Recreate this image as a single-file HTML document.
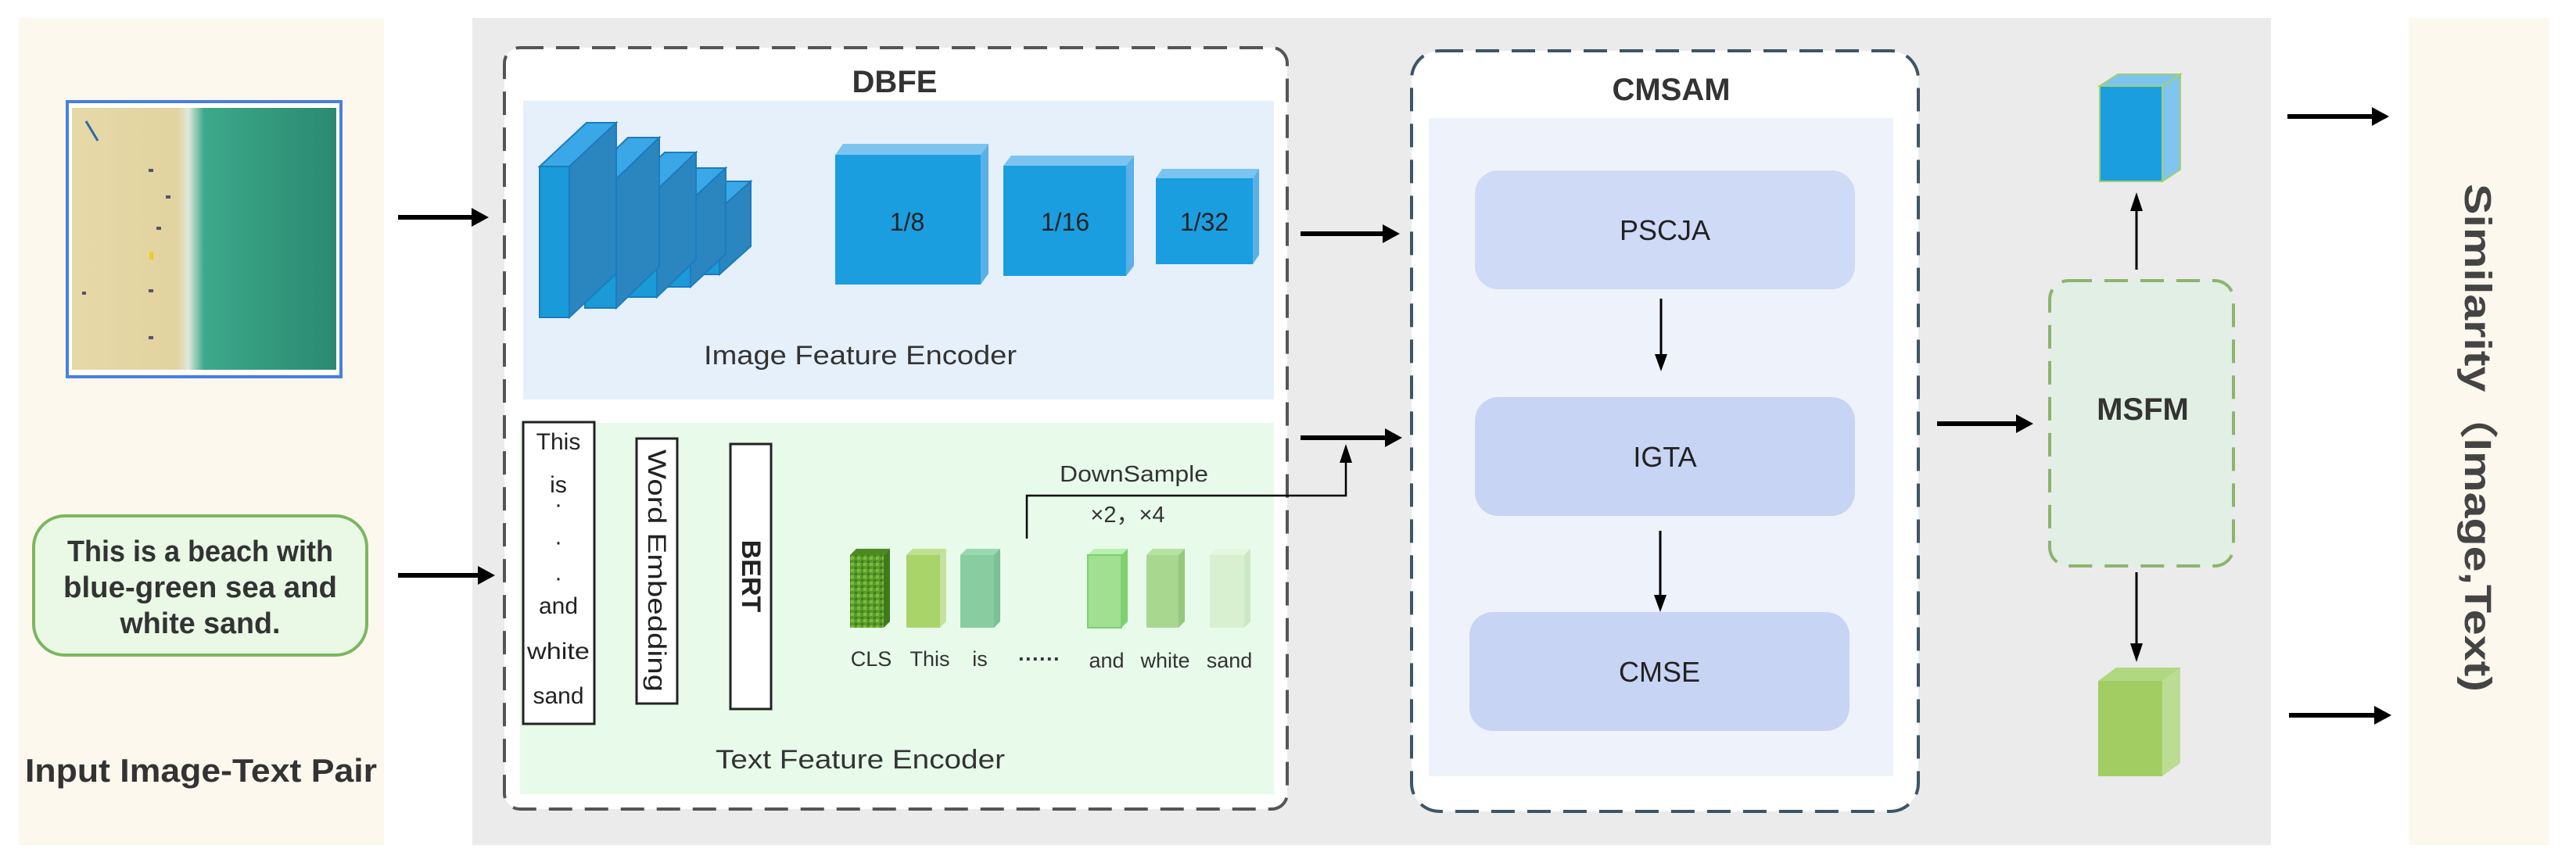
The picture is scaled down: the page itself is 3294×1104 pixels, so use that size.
<!DOCTYPE html>
<html><head><meta charset="utf-8"><style>
html,body{margin:0;padding:0;background:#fff;}
svg{display:block;font-family:"Liberation Sans",sans-serif;}
</style></head><body>
<svg width="3294" height="1104" viewBox="0 0 3294 1104" xmlns="http://www.w3.org/2000/svg">
<defs>
<marker id="ah" markerWidth="10" markerHeight="10" refX="8" refY="5" orient="auto" markerUnits="userSpaceOnUse" viewBox="0 0 10 10">
</marker>
<linearGradient id="sea" x1="0" y1="0" x2="1" y2="0">
<stop offset="0" stop-color="#e6d9a8"/><stop offset="0.4" stop-color="#e2d3a0"/><stop offset="0.44" stop-color="#dfe8dc"/><stop offset="0.5" stop-color="#3da88a"/><stop offset="1" stop-color="#2a8a70"/>
</linearGradient>
<pattern id="grass" width="8" height="8" patternUnits="userSpaceOnUse"><rect width="8" height="8" fill="#5a9a2a"/><rect x="0" y="0" width="4" height="4" fill="#7cbc3c"/><rect x="5" y="5" width="3" height="3" fill="#3e7a1c"/></pattern>
</defs>
<!-- panels -->
<rect x="24" y="23" width="467" height="1058" fill="#fdf8ee"/>
<rect x="604" y="23" width="2300" height="1058" fill="#ebebeb"/>
<rect x="3080" y="23" width="180" height="1058" fill="#fdf8ee"/>
<!-- beach image -->
<rect x="86" y="130" width="350" height="352" fill="#fff" stroke="#4a7fe0" stroke-width="4"/>
<rect x="92" y="138" width="338" height="335" fill="url(#sea)"/>
<g fill="#556">
<rect x="190" y="216" width="6" height="4"/><rect x="212" y="250" width="6" height="4"/><rect x="200" y="290" width="6" height="4"/><rect x="190" y="370" width="6" height="4"/><rect x="105" y="373" width="5" height="4"/><rect x="190" y="430" width="6" height="4"/></g>
<rect x="191" y="322" width="5" height="10" fill="#e8d020"/>
<line x1="110" y1="155" x2="125" y2="180" stroke="#3366aa" stroke-width="3"/>
<!-- input text box -->
<rect x="43" y="660" width="426" height="178" rx="40" fill="#e9f9e6" stroke="#7cb660" stroke-width="4"/>
<g font-weight="bold" font-size="38" fill="#333" text-anchor="middle">
<text x="256" y="718" textLength="340" lengthAdjust="spacingAndGlyphs">This is a beach with</text>
<text x="256" y="764" textLength="350" lengthAdjust="spacingAndGlyphs">blue-green sea and</text>
<text x="256" y="810" textLength="205" lengthAdjust="spacingAndGlyphs">white sand.</text>
<text x="257" y="1000" font-size="42" textLength="450" lengthAdjust="spacingAndGlyphs">Input Image-Text Pair</text>
</g>
<!-- arrows helper: lines with polygon heads -->
<g stroke="#000" stroke-width="6" fill="none">
<line x1="509" y1="278" x2="605" y2="278"/>
<line x1="509" y1="736" x2="612" y2="736"/>
<line x1="1663" y1="299" x2="1770" y2="299"/>
<line x1="1663" y1="560" x2="1773" y2="560"/>
<line x1="2477" y1="542" x2="2580" y2="542"/>
<line x1="2925" y1="149" x2="3035" y2="149"/>
<line x1="2927" y1="915" x2="3038" y2="915"/>
<line x1="983" y1="286" x2="1045" y2="286"/>
<line x1="760" y1="732" x2="798" y2="732"/>
<line x1="873" y1="732" x2="912" y2="732"/>
<line x1="999" y1="732" x2="1062" y2="732"/>
</g>
<g fill="#000">
<polygon points="625,278 603,266 603,290"/>
<polygon points="633,736 611,724 611,748"/>
<polygon points="1790,299 1768,287 1768,311"/>
<polygon points="1793,560 1771,548 1771,572"/>
<polygon points="2600,542 2578,530 2578,554"/>
<polygon points="3055,149 3033,137 3033,161"/>
<polygon points="3058,915 3036,903 3036,927"/>
<polygon points="1063,286 1043,274 1043,298"/>
<polygon points="816,732 796,720 796,744"/>
<polygon points="931,732 911,720 911,744"/>
<polygon points="1080,732 1060,720 1060,744"/>
</g>
<!-- DBFE -->
<rect x="645" y="61" width="1001" height="974" rx="20" fill="#fff" stroke="#555" stroke-width="4" stroke-dasharray="30,16"/>
<text x="1144" y="118" font-size="40" font-weight="bold" text-anchor="middle" fill="#333">DBFE</text>
<rect x="669" y="129" width="960" height="382" fill="#e6f0fb"/>
<rect x="665" y="541" width="964" height="475" fill="#e8fbea"/>
<!-- conv slabs -->
<g stroke="#1a7cc0" stroke-width="2">
<g transform="translate(880,0)"><polygon points="0,268 40,232 80,232 40,268" fill="#3aa8e6"/><polygon points="40,268 80,232 80,315 40,351" fill="#2b86bf"/><rect x="0" y="268" width="40" height="83" fill="#1a9ad8"/></g>
<g transform="translate(843,0)"><polygon points="0,257 45,215 85,215 40,257" fill="#3aa8e6"/><polygon points="40,257 85,215 85,325 40,367" fill="#2b86bf"/><rect x="0" y="257" width="40" height="110" fill="#1a9ad8"/></g>
<g transform="translate(800,0)"><polygon points="0,243 50,195 90,195 40,243" fill="#3aa8e6"/><polygon points="40,243 90,195 90,332 40,380" fill="#2b86bf"/><rect x="0" y="243" width="40" height="137" fill="#1a9ad8"/></g>
<g transform="translate(748,0)"><polygon points="0,229 55,176 95,176 40,229" fill="#3aa8e6"/><polygon points="40,229 95,176 95,341 40,394" fill="#2b86bf"/><rect x="0" y="229" width="40" height="165" fill="#1a9ad8"/></g>
<g transform="translate(690,0)"><polygon points="0,213 60,157 98,157 38,213" fill="#3aa8e6"/><polygon points="38,213 98,157 98,350 38,406" fill="#2b86bf"/><rect x="0" y="213" width="38" height="193" fill="#1a9ad8"/></g>
</g>
<!-- scale cubes -->
<g>
<polygon points="1068,198 1078,184 1264,184 1254,198" fill="#7cc4f0"/><polygon points="1254,198 1264,184 1264,350 1254,364" fill="#5ab0e8"/><rect x="1068" y="198" width="186" height="166" fill="#1a9ee0"/>
<polygon points="1283,212 1293,199 1450,199 1440,212" fill="#7cc4f0"/><polygon points="1440,212 1450,199 1450,340 1440,353" fill="#5ab0e8"/><rect x="1283" y="212" width="157" height="141" fill="#1a9ee0"/>
<polygon points="1478,228 1486,216 1610,216 1602,228" fill="#7cc4f0"/><polygon points="1602,228 1610,216 1610,326 1602,338" fill="#5ab0e8"/><rect x="1478" y="228" width="124" height="110" fill="#1a9ee0"/>
</g>
<g font-size="32" fill="#222" text-anchor="middle">
<text x="1160" y="295">1/8</text><text x="1362" y="295">1/16</text><text x="1540" y="295">1/32</text>
</g>
<text x="1100" y="466" font-size="34" fill="#333" text-anchor="middle" textLength="400" lengthAdjust="spacingAndGlyphs">Image Feature Encoder</text>
<!-- text encoder -->
<rect x="669" y="540" width="91" height="386" fill="#fff" stroke="#222" stroke-width="3"/>
<g font-size="30" fill="#222" text-anchor="middle">
<text x="714" y="575">This</text><text x="714" y="630">is</text><text x="714" y="655">·</text><text x="714" y="703">·</text><text x="714" y="749">·</text><text x="714" y="785">and</text><text x="714" y="843" textLength="80" lengthAdjust="spacingAndGlyphs">white</text><text x="714" y="900">sand</text>
</g>
<rect x="814" y="561" width="52" height="339" fill="#fff" stroke="#222" stroke-width="3"/>
<text transform="translate(829,730) rotate(90)" font-size="32" fill="#222" text-anchor="middle" textLength="310" lengthAdjust="spacingAndGlyphs">Word Embedding</text>
<rect x="934" y="568" width="52" height="339" fill="#fff" stroke="#222" stroke-width="3"/>
<text transform="translate(949,737) rotate(90)" font-size="34" font-weight="bold" fill="#222" text-anchor="middle">BERT</text>
<!-- tokens -->
<g>
<polygon points="1087,710 1095,702 1138,702 1130,710" fill="#4c8a20"/><polygon points="1130,710 1138,702 1138,795 1130,803" fill="#3e7a1c"/><rect x="1087" y="710" width="43" height="93" fill="url(#grass)"/>
<polygon points="1159,710 1167,702 1210,702 1202,710" fill="#c0e090"/><polygon points="1202,710 1210,702 1210,795 1202,803" fill="#c4e2a0"/><rect x="1159" y="710" width="43" height="93" fill="#a8d46a"/>
<polygon points="1228,710 1236,702 1279,702 1271,710" fill="#9ad8b0"/><polygon points="1271,710 1279,702 1279,795 1271,803" fill="#7cc098"/><rect x="1228" y="710" width="43" height="93" fill="#88cca0"/>
<polygon points="1391,710 1399,702 1442,702 1434,710" fill="#b8f0b0"/><polygon points="1434,710 1442,702 1442,795 1434,803" fill="#80d070"/><rect x="1391" y="710" width="43" height="93" fill="#a0e090" stroke="#7cd070" stroke-width="2"/>
<polygon points="1466,710 1474,702 1515,702 1507,710" fill="#b8e0a0"/><polygon points="1507,710 1515,702 1515,795 1507,803" fill="#98c880"/><rect x="1466" y="710" width="41" height="93" fill="#a8d890"/>
<polygon points="1547,710 1555,702 1599,702 1591,710" fill="#e4f6dc"/><polygon points="1591,710 1599,702 1599,795 1591,803" fill="#cce8c4"/><rect x="1547" y="710" width="44" height="93" fill="#d8f0d0"/>
</g>
<g font-size="27" fill="#333" text-anchor="middle">
<text x="1114" y="852">CLS</text><text x="1189" y="852">This</text><text x="1253" y="852">is</text><text x="1329" y="852" font-weight="bold">······</text><text x="1415" y="854">and</text><text x="1490" y="854">white</text><text x="1572" y="854">sand</text>
<text x="1450" y="616" font-size="29" textLength="190" lengthAdjust="spacingAndGlyphs">DownSample</text>
<text x="1442" y="668" font-size="29">×2，×4</text>
</g>
<polyline points="1313,689 1313,634 1721,634 1721,590" fill="none" stroke="#000" stroke-width="2.5"/>
<polygon points="1721,568 1713,592 1729,592" fill="#000"/>
<text x="1100" y="983" font-size="34" fill="#333" text-anchor="middle" textLength="370" lengthAdjust="spacingAndGlyphs">Text Feature Encoder</text>
<!-- CMSAM -->
<rect x="1805" y="65" width="648" height="973" rx="36" fill="#fff" stroke="#3d5566" stroke-width="4" stroke-dasharray="30,16"/>
<text x="2137" y="128" font-size="40" font-weight="bold" text-anchor="middle" fill="#333">CMSAM</text>
<rect x="1827" y="151" width="594" height="842" fill="#eef2fb"/>
<rect x="1886" y="218" width="486" height="152" rx="30" fill="#cfdaf7"/>
<rect x="1886" y="508" width="486" height="152" rx="30" fill="#c8d4f3"/>
<rect x="1879" y="783" width="486" height="152" rx="30" fill="#c8d4f3"/>
<g font-size="36" fill="#222" text-anchor="middle">
<text x="2129" y="307">PSCJA</text><text x="2129" y="597">IGTA</text><text x="2122" y="872">CMSE</text>
</g>
<g stroke="#000" stroke-width="3"><line x1="2124" y1="382" x2="2124" y2="455"/><line x1="2123" y1="679" x2="2123" y2="763"/>
<line x1="2732" y1="345" x2="2732" y2="268"/><line x1="2732" y1="732" x2="2732" y2="825"/></g>
<g fill="#000"><polygon points="2124,475 2116,453 2132,453"/><polygon points="2123,783 2115,761 2131,761"/>
<polygon points="2732,246 2724,270 2740,270"/><polygon points="2732,847 2724,823 2740,823"/></g>
<!-- MSFM -->
<rect x="2621" y="359" width="235" height="365" rx="24" fill="#e2efe5" stroke="#8db46e" stroke-width="4" stroke-dasharray="30,16"/>
<text x="2740" y="537" font-size="40" font-weight="bold" text-anchor="middle" fill="#333">MSFM</text>
<!-- output cubes -->
<polygon points="2685,110 2708,95 2788,95 2765,110" fill="#7cc4f0" stroke="#a0d070" stroke-width="2"/>
<polygon points="2765,110 2788,95 2788,217 2765,232" fill="#80c4f0" stroke="#a0d070" stroke-width="2"/>
<rect x="2685" y="110" width="80" height="122" fill="#1a9ee0" stroke="#a0d070" stroke-width="2"/>
<polygon points="2683,871 2706,854 2788,854 2765,871" fill="#b0d880"/>
<polygon points="2765,871 2788,854 2788,976 2765,993" fill="#bcdc94"/>
<rect x="2683" y="871" width="82" height="122" fill="#a2cd62"/>
<!-- similarity -->
<text transform="translate(3152,560) rotate(90)" font-size="48" font-weight="bold" fill="#444" text-anchor="middle" textLength="650" lengthAdjust="spacingAndGlyphs">Similarity（Image,Text)</text>
</svg>
</body></html>
